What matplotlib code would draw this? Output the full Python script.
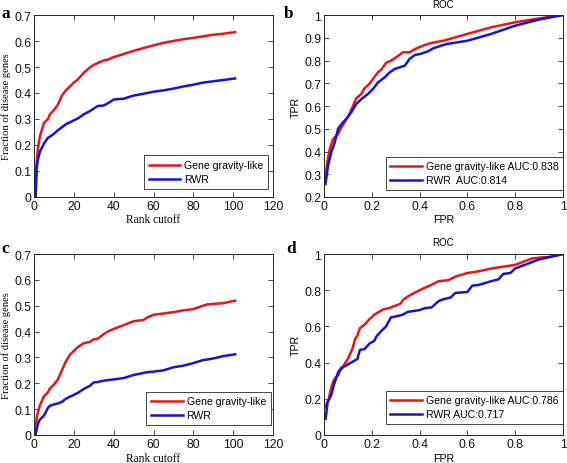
import matplotlib
matplotlib.use("Agg")
import matplotlib.pyplot as plt
from matplotlib.ticker import FixedLocator

# ---------------- data ----------------
labels_rank = ["Gene gravity-like", "RWR"]

rank_a = [0.8, 1.3, 2, 3, 5, 7, 8, 10, 12, 14, 16, 18, 20, 22, 25, 28, 30, 32, 35, 37,
          40, 45, 50, 55, 60, 65, 70, 75, 80, 85, 90, 95, 100, 101]
ggl_a = [0, 0.13, 0.19, 0.235, 0.285, 0.30, 0.318, 0.335, 0.355, 0.39, 0.41, 0.425, 0.44,
         0.452, 0.478, 0.498, 0.508, 0.515, 0.525, 0.528, 0.538, 0.55, 0.562, 0.573, 0.583,
         0.593, 0.60, 0.607, 0.612, 0.618, 0.624, 0.628, 0.633, 0.634]
rwr_a = [0, 0.11, 0.145, 0.175, 0.205, 0.228, 0.232, 0.243, 0.257, 0.268, 0.28, 0.287, 0.295,
         0.302, 0.318, 0.33, 0.34, 0.35, 0.352, 0.36, 0.375, 0.378, 0.39, 0.397, 0.405, 0.41,
         0.417, 0.425, 0.432, 0.44, 0.445, 0.45, 0.455, 0.456]

rank_c = [0.8, 1.3, 2, 3, 5, 7, 8, 10, 12, 14, 16, 18, 20, 22, 25, 28, 30, 32, 35, 37, 40,
          45, 50, 55, 57, 60, 65, 70, 75, 80, 85, 87, 90, 95, 100, 101]
ggl_c = [0, 0.065, 0.09, 0.115, 0.15, 0.165, 0.18, 0.195, 0.215, 0.25, 0.285, 0.31, 0.325,
         0.34, 0.355, 0.36, 0.37, 0.372, 0.39, 0.40, 0.41, 0.425, 0.44, 0.445, 0.455, 0.465,
         0.47, 0.475, 0.482, 0.487, 0.5, 0.505, 0.507, 0.51, 0.518, 0.519]
rwr_c = [0, 0.02, 0.045, 0.06, 0.075, 0.105, 0.113, 0.118, 0.122, 0.128, 0.14, 0.148, 0.155,
         0.163, 0.178, 0.19, 0.203, 0.205, 0.21, 0.212, 0.215, 0.22, 0.232, 0.24, 0.243, 0.245,
         0.25, 0.262, 0.268, 0.278, 0.29, 0.292, 0.296, 0.305, 0.311, 0.312]

fpr_b_ggl = [0.006, 0.015, 0.024, 0.038, 0.059, 0.073, 0.086, 0.107, 0.121, 0.135, 0.156, 0.17,
             0.19, 0.205, 0.226, 0.24, 0.26, 0.282, 0.31, 0.33, 0.358, 0.38, 0.407, 0.435, 0.463,
             0.5, 0.6, 0.7, 0.8, 0.9, 1.0]
tpr_b_ggl = [0.29, 0.36, 0.41, 0.455, 0.477, 0.506, 0.528, 0.565, 0.60, 0.634, 0.653, 0.678,
             0.697, 0.719, 0.748, 0.76, 0.79, 0.80, 0.82, 0.836, 0.836, 0.85, 0.862, 0.873, 0.88,
             0.887, 0.917, 0.946, 0.968, 0.985, 1.0]
fpr_b_rwr = [0.006, 0.017, 0.03, 0.045, 0.059, 0.073, 0.093, 0.114, 0.135, 0.156, 0.184, 0.205,
             0.226, 0.254, 0.275, 0.296, 0.317, 0.338, 0.358, 0.38, 0.407, 0.435, 0.456, 0.49,
             0.512, 0.6, 0.7, 0.8, 0.9, 0.95, 1.0]
tpr_b_rwr = [0.257, 0.338, 0.396, 0.44, 0.50, 0.52, 0.543, 0.572, 0.609, 0.63, 0.653, 0.675,
             0.704, 0.726, 0.748, 0.763, 0.77, 0.777, 0.807, 0.824, 0.83, 0.84, 0.853, 0.865,
             0.872, 0.887, 0.917, 0.953, 0.98, 0.99, 1.0]
labels_b = ["Gene gravity-like AUC:0.838", "RWR  AUC:0.814"]

fpr_d_ggl = [0.004, 0.02, 0.03, 0.04, 0.05, 0.06, 0.07, 0.08, 0.1, 0.12, 0.13, 0.14, 0.15, 0.17,
             0.19, 0.2, 0.21, 0.23, 0.25, 0.27, 0.3, 0.32, 0.33, 0.35, 0.4, 0.45, 0.48, 0.52,
             0.55, 0.6, 0.65, 0.7, 0.75, 0.8, 0.83, 0.87, 0.9, 0.95, 1.0]
tpr_d_ggl = [0.15, 0.2, 0.26, 0.3, 0.32, 0.33, 0.37, 0.38, 0.42, 0.48, 0.53, 0.55, 0.59, 0.61,
             0.64, 0.65, 0.665, 0.68, 0.695, 0.70, 0.715, 0.725, 0.745, 0.765, 0.80, 0.83, 0.85,
             0.855, 0.875, 0.895, 0.905, 0.92, 0.93, 0.94, 0.955, 0.975, 0.98, 0.985, 1.0]
fpr_d_rwr = [0.007, 0.015, 0.03, 0.04, 0.05, 0.06, 0.08, 0.1, 0.12, 0.14, 0.15, 0.17, 0.19, 0.21,
             0.22, 0.24, 0.26, 0.28, 0.3, 0.33, 0.35, 0.4, 0.42, 0.45, 0.48, 0.5, 0.53, 0.55,
             0.6, 0.62, 0.65, 0.7, 0.73, 0.75, 0.78, 0.8, 0.83, 0.87, 0.9, 0.95, 1.0]
tpr_d_rwr = [0.09, 0.18, 0.22, 0.27, 0.31, 0.35, 0.375, 0.39, 0.405, 0.42, 0.47, 0.475, 0.505,
             0.52, 0.545, 0.575, 0.6, 0.65, 0.655, 0.665, 0.68, 0.69, 0.70, 0.705, 0.74, 0.75,
             0.76, 0.785, 0.79, 0.825, 0.83, 0.85, 0.86, 0.89, 0.895, 0.92, 0.935, 0.955, 0.97,
             0.985, 1.0]
labels_d = ["Gene gravity-like AUC:0.786", "RWR AUC:0.717"]

panel_letters = ["a", "b", "c", "d"]

# ---------------- style ----------------
W, H = 567, 464
fig = plt.figure(figsize=(W / 100, H / 100), dpi=100)
SANS = ["Liberation Sans", "DejaVu Sans"]
SERIF = ["Liberation Serif", "DejaVu Serif"]
RED = "#e8141b"
BLUE = "#1414d2"
EDGE = "#262626"


def px_axes(l, t, r, b):
    return fig.add_axes([l / W, 1 - b / H, (r - l) / W, (b - t) / H])


def style(ax, xlim, ylim, xticks, yticks, xfmt, yfmt):
    ax.set_xlim(*xlim)
    ax.set_ylim(*ylim)
    ax.xaxis.set_major_locator(FixedLocator(xticks))
    ax.yaxis.set_major_locator(FixedLocator(yticks))
    ax.set_xticklabels([xfmt(v) for v in xticks], fontfamily=SANS, fontsize=8.7)
    ax.set_yticklabels([yfmt(v) for v in yticks], fontfamily=SANS, fontsize=8.7)
    ax.tick_params(direction="in", length=3.5, width=0.6, top=True, right=True,
                   color=EDGE, labelcolor="#111111", pad=2)
    for s in ax.spines.values():
        s.set_linewidth(0.7)
        s.set_color(EDGE)


def fmt_num(v):
    s = ("%.1f" % v)
    if s.endswith(".0"):
        s = s[:-2]
    return s


def add_legend(ax, handles, labels, right, bottom):
    leg = ax.legend(handles, labels, loc="lower right", bbox_to_anchor=(right, bottom),
                    borderaxespad=0, prop={"family": SANS, "size": 7.6},
                    handlelength=3.0, handletextpad=0.35, borderpad=0.45,
                    labelspacing=0.38, fancybox=False, framealpha=1)
    leg.get_frame().set_edgecolor(EDGE)
    leg.get_frame().set_linewidth(0.6)


def label_axes(ax, xl, yl, xfam, yfam, xsize, ysize, xy_x, xy_y):
    ax.set_xlabel(xl, fontfamily=xfam, fontsize=xsize)
    ax.set_ylabel(yl, fontfamily=yfam, fontsize=ysize)
    ax.xaxis.label.set_va("center")
    ax.yaxis.label.set_va("center")
    ax.xaxis.set_label_coords(0.5, xy_y)
    ax.yaxis.set_label_coords(xy_x, 0.5)


LW = 1.8

# panel a
ax = px_axes(34, 16, 273, 198)
h1, = ax.plot(rank_a, ggl_a, color=RED, lw=LW)
h2, = ax.plot(rank_a, rwr_a, color=BLUE, lw=LW)
style(ax, (0, 120), (0, 0.7), list(range(0, 121, 20)), [i / 10 for i in range(8)],
      lambda v: "%d" % v, fmt_num)
label_axes(ax, "Rank cutoff", "Fraction of disease genes", SERIF, SERIF, 8.3, 7.7, -0.118, -0.12)
add_legend(ax, [h1, h2], labels_rank, 0.979, 0.044)

# panel b
ax = px_axes(324, 16, 563, 198)
h1, = ax.plot(fpr_b_ggl, tpr_b_ggl, color=RED, lw=LW)
h2, = ax.plot(fpr_b_rwr, tpr_b_rwr, color=BLUE, lw=LW)
style(ax, (0, 1), (0.2, 1), [0, 0.2, 0.4, 0.6, 0.8, 1.0], [0.2 + i / 10 for i in range(9)],
      fmt_num, fmt_num)
label_axes(ax, "FPR", "TPR", SANS, SANS, 7.7, 7.7, -0.117, -0.12)
ax.text(0.5, 1 + 11 / 182, "ROC", transform=ax.transAxes, ha="center", va="center",
        fontfamily=SANS, fontsize=7)
add_legend(ax, [h1, h2], labels_b, 1.0, 0.038)

# panel c
ax = px_axes(34, 255, 273, 436)
h1, = ax.plot(rank_c, ggl_c, color=RED, lw=LW)
h2, = ax.plot(rank_c, rwr_c, color=BLUE, lw=LW)
style(ax, (0, 120), (0, 0.7), list(range(0, 121, 20)), [i / 10 for i in range(8)],
      lambda v: "%d" % v, fmt_num)
label_axes(ax, "Rank cutoff", "Fraction of disease genes", SERIF, SERIF, 8.3, 7.7, -0.118, -0.127)
add_legend(ax, [h1, h2], labels_rank, 0.99, 0.055)

# panel d
ax = px_axes(324, 255, 563, 436)
h1, = ax.plot(fpr_d_ggl, tpr_d_ggl, color=RED, lw=LW)
h2, = ax.plot(fpr_d_rwr, tpr_d_rwr, color=BLUE, lw=LW)
style(ax, (0, 1), (0, 1), [0, 0.2, 0.4, 0.6, 0.8, 1.0], [0, 0.2, 0.4, 0.6, 0.8, 1.0],
      fmt_num, fmt_num)
label_axes(ax, "FPR", "TPR", SANS, SANS, 7.7, 7.7, -0.117, -0.128)
ax.text(0.5, 1 + 12 / 181, "ROC", transform=ax.transAxes, ha="center", va="center",
        fontfamily=SANS, fontsize=7)
add_legend(ax, [h1, h2], labels_d, 1.0, 0.06)

# panel letters
for letter, (x, y) in zip(panel_letters, [(6, 14), (289, 14), (5.5, 249.5), (291, 249)]):
    fig.text(x / W, 1 - y / H, letter, ha="center", va="center", fontfamily=SERIF,
             fontweight="bold", fontsize=12.5)

fig.savefig("out.png", dpi=100)
